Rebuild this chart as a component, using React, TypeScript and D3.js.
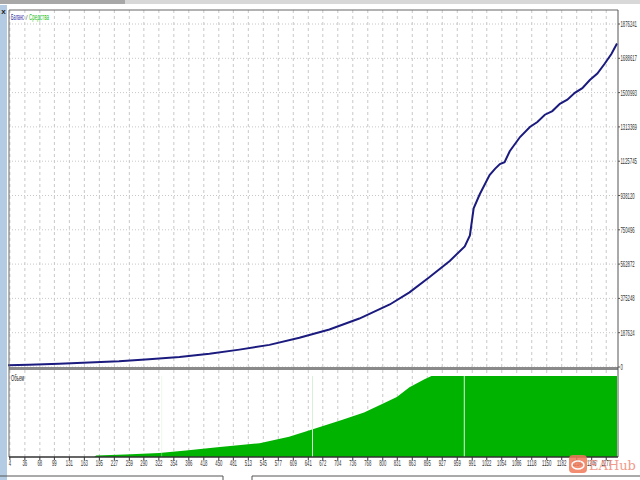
import React from "react";
import * as d3 from "d3";

// ---- data ----
const balanceIdx = [0, 45, 109, 173, 237, 301, 366, 430, 494, 558, 622, 686, 750, 815, 857, 900, 943, 975, 986, 994, 1007, 1028, 1040, 1050, 1060, 1071, 1093, 1114, 1130, 1146, 1162, 1178, 1194, 1210, 1226, 1242, 1258, 1274, 1288, 1300];
const balanceVal = [10000, 12000, 18000, 24000, 31000, 42000, 55000, 72000, 95000, 121000, 160000, 205000, 265000, 342000, 408000, 492000, 580000, 660000, 720000, 868000, 945000, 1050000, 1085000, 1110000, 1120000, 1180000, 1258000, 1313000, 1340000, 1380000, 1400000, 1440000, 1462000, 1500000, 1525000, 1570000, 1605000, 1660000, 1712000, 1770000];

const volumeIdx = [0, 184, 188, 250, 323, 380, 447, 537, 600, 644, 714, 760, 793, 830, 857, 889, 904, 1300];
const volumeVal = [0, 0, 2, 3, 5, 8, 12, 17, 25, 33, 46, 55, 64, 74, 86, 96, 100, 100];
const volumeGaps = [328, 650, 974];

const yTicks = [0, 187624, 375248, 562872, 750496, 938120, 1125745, 1313369, 1500993, 1688617, 1876241];
const xTickLabels = ["4", "36", "68", "99", "131", "163", "195", "227", "259", "290", "322", "354", "386", "418", "450", "481", "513", "545", "577", "609", "641", "672", "704", "736", "768", "800", "831", "863", "895", "927", "959", "991", "1022", "1054", "1086", "1118", "1150", "1182", "1214", "1246", "1277"];

const W = 640, H = 480;
const L = 9, R = 618, T = 10, MB = 367, VT = 370, VB = 457;

export default function App() {
  const x = d3.scaleLinear().domain([0, 1300]).range([8, 617]);
  const y = d3.scaleLinear().domain([0, 1876241]).range([MB, 24]);
  const yv = d3.scaleLinear().domain([0, 100]).range([VB, 376]);

  const balance = balanceIdx.map((i, k) => [i, balanceVal[k]] as [number, number]);
  const volume = volumeIdx.map((i, k) => [i, volumeVal[k]] as [number, number]);

  const line = d3.line<[number, number]>().x(d => x(d[0])).y(d => y(d[1]));
  const area = d3.area<[number, number]>().x(d => x(d[0])).y0(VB).y1(d => yv(d[1]));

  const font = "'Liberation Sans', Arial, sans-serif";
  const cw = 2.35;

  return (
    <svg width={W} height={H} style={{ position: "absolute", left: 0, top: 0, background: "#fff" }} fontFamily={font}>
      <rect x={0} y={0} width={W} height={H} fill="#fff" />
      {/* top strip */}
      <rect x={0} y={0} width={W} height={4} fill="#d8d8d8" />
      <rect x={0} y={0} width={125} height={4} fill="#a8a8a8" />
      {/* left strip */}
      <rect x={0} y={5} width={7} height={H - 5} fill="#b4cbe4" />
      <text x={3.5} y={14} fontSize={8} textAnchor="middle" fill="#222" fontWeight="bold">x</text>

      {/* grid main */}
      {yTicks.map((t, i) => (
        <line key={"hy" + i} x1={L} x2={R} y1={y(t)} y2={y(t)} stroke="#c8c8c8" strokeDasharray="1,2" />
      ))}
      {xTickLabels.map((t, i) => (
        <line key={"vx" + i} x1={x(+t)} x2={x(+t)} y1={T} y2={MB} stroke="#c8c8c8" strokeDasharray="3,3" />
      ))}
      {xTickLabels.map((t, i) => (
        <line key={"vv" + i} x1={x(+t)} x2={x(+t)} y1={VT} y2={VB} stroke="#c8c8c8" strokeDasharray="3,3" />
      ))}

      {/* volume */}
      <path d={area(volume) || ""} fill="#00b300" />
      {volumeGaps.map((g, i) => (
        <line key={"g" + i} x1={x(g)} x2={x(g)} y1={yv(100)} y2={VB} stroke="#d8f0d8" strokeWidth={1} opacity={i === 0 ? 0.4 : 1} />
      ))}
      <text x={11} y={381} fontSize={9} fill="#222" textLength={13} lengthAdjust="spacingAndGlyphs">Объем</text>

      {/* balance line */}
      <path d={line(balance) || ""} fill="none" stroke="#1b1b7f" strokeWidth={2} />

      {/* borders */}
      <rect x={L} y={MB} width={R - L} height={3} fill="#8a8a8a" />
      <line x1={L} x2={R} y1={T} y2={T} stroke="#666" />
      <line x1={L} x2={L} y1={T} y2={VB} stroke="#666" />
      <line x1={R} x2={R} y1={T} y2={VB} stroke="#555" />
      <line x1={L} x2={R} y1={VB} y2={VB} stroke="#333" strokeWidth={1.5} />

      {/* legend */}
      <text x={11} y={20} fontSize={9} fill="#2a2aa0" textLength={13} lengthAdjust="spacingAndGlyphs">Баланс</text>
      <text x={25.5} y={20} fontSize={8} fill="#888">/</text>
      <text x={29} y={20} fontSize={9} fill="#22c022" textLength={20} lengthAdjust="spacingAndGlyphs">Средства</text>

      {/* y labels */}
      {yTicks.map((t, i) => (
        <g key={"yl" + i}>
          <line x1={R} x2={R + 2} y1={y(t)} y2={y(t)} stroke="#555" />
          <text x={620.5} y={y(t) + 3} fontSize={9} fill="#333" textLength={String(t).length * cw} lengthAdjust="spacingAndGlyphs">{t}</text>
        </g>
      ))}

      {/* x labels */}
      {xTickLabels.map((t, i) => (
        <g key={"xl" + i}>
          <line x1={x(+t)} x2={x(+t)} y1={VB} y2={VB + 3} stroke="#333" />
          <text x={x(+t)} y={466} fontSize={9} fill="#333" textAnchor="middle" textLength={t.length * cw} lengthAdjust="spacingAndGlyphs">{t}</text>
        </g>
      ))}

      {/* bottom tabs */}
      <path d="M0,476 H223 V480 M252,480 V476 H640" fill="none" stroke="#555" />

      {/* watermark */}
      <g opacity={0.85}>
        <rect x={569} y={455} width={18} height={18} rx={4} fill="#f07a5a" />
        <ellipse cx={578} cy={465} rx={6} ry={4} fill="none" stroke="#fff" strokeWidth={1.5} />
        <text x={589} y={470} fontSize={13} fill="#f08a78" fontFamily="'DejaVu Serif', serif">EAHub</text>
      </g>
    </svg>
  );
}
